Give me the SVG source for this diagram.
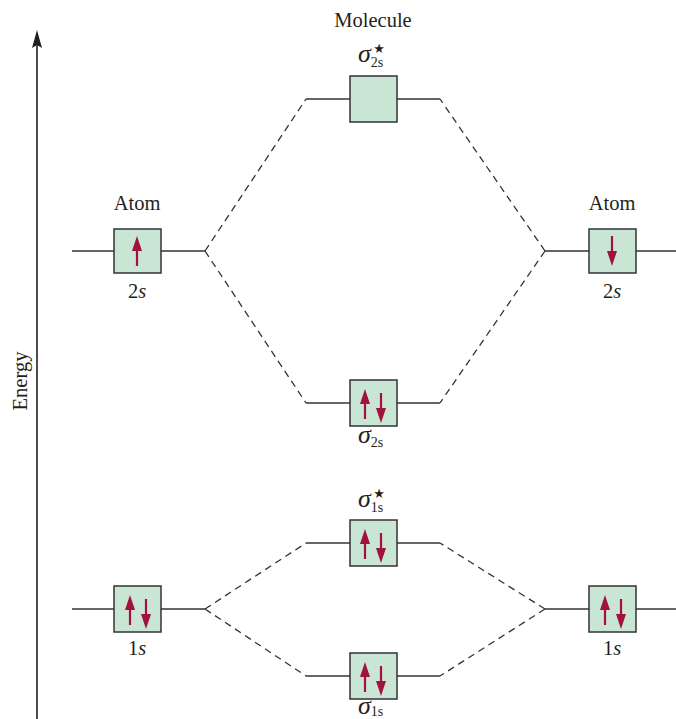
<svg xmlns="http://www.w3.org/2000/svg" width="676" height="719" viewBox="0 0 676 719">
<defs>
<style>
.lvl{stroke:#333;stroke-width:1.4;fill:none}
.dash{stroke:#333;stroke-width:1.3;fill:none;stroke-dasharray:7 5}
.box{fill:#C9E5D3;stroke:#333;stroke-width:1.5}
.t{font-family:"Liberation Serif","Times New Roman",serif;font-size:20.5px;fill:#231F20}
.sig{font-family:"Liberation Serif","Times New Roman",serif;font-size:26px;font-style:italic;fill:#231F20}
.sub{font-size:14px;font-style:normal}
.star{font-family:"DejaVu Sans",sans-serif;font-size:13px;fill:#231F20}
.e{stroke:#A3123E;stroke-width:2.2;fill:none}
.eh{fill:#A3123E}
</style>
<g id="up"><line class="e" x1="0" y1="15" x2="0" y2="-8"/><polygon class="eh" points="0,-15 -5,0 5,0"/></g>
<g id="down"><line class="e" x1="0" y1="-15" x2="0" y2="8"/><polygon class="eh" points="0,15 -5,0 5,0"/></g>
</defs>
<rect width="676" height="719" fill="#fff"/>

<g id="axis">
<line x1="37" y1="719" x2="37" y2="44" stroke="#231F20" stroke-width="1.6"/>
<polygon points="37,30 42,48 37,45 32,48" fill="#231F20"/>
<text class="t" transform="translate(27,381) rotate(-90)" text-anchor="middle">Energy</text>
</g>

<g id="connectors">
<line class="lvl" x1="72" y1="251" x2="114" y2="251"/>
<line class="lvl" x1="161" y1="251" x2="205" y2="251"/>
<line class="lvl" x1="545" y1="251" x2="589" y2="251"/>
<line class="lvl" x1="636" y1="251" x2="676" y2="251"/>
<line class="lvl" x1="306" y1="99" x2="350" y2="99"/>
<line class="lvl" x1="397" y1="99" x2="440" y2="99"/>
<line class="lvl" x1="306" y1="403" x2="350" y2="403"/>
<line class="lvl" x1="397" y1="403" x2="440" y2="403"/>
<line class="lvl" x1="72" y1="609" x2="114" y2="609"/>
<line class="lvl" x1="161" y1="609" x2="205" y2="609"/>
<line class="lvl" x1="545" y1="609" x2="589" y2="609"/>
<line class="lvl" x1="636" y1="609" x2="676" y2="609"/>
<line class="lvl" x1="306" y1="543" x2="350" y2="543"/>
<line class="lvl" x1="397" y1="543" x2="440" y2="543"/>
<line class="lvl" x1="306" y1="676" x2="350" y2="676"/>
<line class="lvl" x1="397" y1="676" x2="440" y2="676"/>
<path class="dash" d="M205,251 L306,99 M205,251 L306,403 M545,251 L440,99 M545,251 L440,403"/>
<path class="dash" d="M205,609 L306,543 M205,609 L306,676 M545,609 L440,543 M545,609 L440,676"/>
</g>

<g id="molecule-label"><text class="t" x="373" y="27" text-anchor="middle">Molecule</text></g>

<g id="atom2s-left">
<rect class="box" x="114" y="229" width="47" height="44"/>
<use href="#up" x="137" y="251"/>
<text class="t" x="137" y="210" text-anchor="middle">Atom</text>
<text class="t" x="137" y="298" text-anchor="middle">2<tspan font-style="italic">s</tspan></text>
</g>

<g id="atom2s-right">
<rect class="box" x="589" y="229" width="47" height="44"/>
<use href="#down" x="612" y="251"/>
<text class="t" x="612" y="210" text-anchor="middle">Atom</text>
<text class="t" x="612" y="298" text-anchor="middle">2<tspan font-style="italic">s</tspan></text>
</g>

<g id="sigma2s-star">
<rect class="box" x="350" y="76" width="47" height="46"/>
<text class="sig" x="358" y="62">σ<tspan class="sub" dy="5">2</tspan><tspan class="sub" font-style="italic">s</tspan></text>
<text class="star" x="379" y="53" text-anchor="middle">★</text>
</g>

<g id="sigma2s">
<rect class="box" x="350" y="380" width="47" height="46"/>
<use href="#up" x="365" y="404"/>
<use href="#down" x="381" y="408"/>
<text class="sig" x="358" y="443">σ<tspan class="sub" dy="4">2</tspan><tspan class="sub" font-style="italic">s</tspan></text>
</g>

<g id="sigma1s-star">
<rect class="box" x="350" y="520" width="47" height="46"/>
<use href="#up" x="365" y="544"/>
<use href="#down" x="381" y="548"/>
<text class="sig" x="358" y="507">σ<tspan class="sub" dy="5">1</tspan><tspan class="sub" font-style="italic">s</tspan></text>
<text class="star" x="379" y="498" text-anchor="middle">★</text>
</g>

<g id="atom1s-left">
<rect class="box" x="114" y="586" width="47" height="46"/>
<use href="#up" x="130" y="610"/>
<use href="#down" x="146" y="614"/>
<text class="t" x="137" y="655" text-anchor="middle">1<tspan font-style="italic">s</tspan></text>
</g>

<g id="atom1s-right">
<rect class="box" x="589" y="586" width="47" height="46"/>
<use href="#up" x="605" y="610"/>
<use href="#down" x="621" y="614"/>
<text class="t" x="612" y="655" text-anchor="middle">1<tspan font-style="italic">s</tspan></text>
</g>

<g id="sigma1s">
<rect class="box" x="350" y="653" width="47" height="46"/>
<use href="#up" x="365" y="677"/>
<use href="#down" x="381" y="681"/>
<text class="sig" x="358" y="714">σ<tspan class="sub" dy="2">1</tspan><tspan class="sub" font-style="italic">s</tspan></text>
</g>
</svg>
